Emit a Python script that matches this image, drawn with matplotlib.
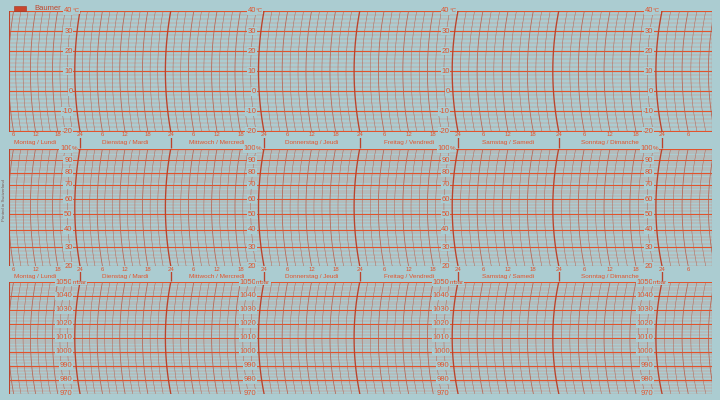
"""Baumer weekly thermo-hygro-barograph chart paper (photo of the blank sheet)."""

import numpy as np
import matplotlib
matplotlib.use("Agg")
import matplotlib.pyplot as plt
from matplotlib.patches import Rectangle
from matplotlib.transforms import blended_transform_factory

plt.rcParams["font.family"] = ["Liberation Sans", "DejaVu Sans"]

# printed scales of the sheet
DAYS = ["Montag / Lundi", "Dienstag / Mardi", "Mittwoch / Mercredi",
        "Donnerstag / Jeudi", "Freitag / Vendredi", "Samstag / Samedi",
        "Sonntag / Dimanche"]
SCALE_HOURS = [24, 72, 120, 168]          # day lines that carry the value scales
DAY_LINES = [24, 48, 72, 96, 120, 144, 168]
TEMP_MAJOR = [40, 30, 20, 10, 0, -10, -20]
HUM_MAJOR = [100, 90, 80, 70, 60, 50, 40, 30, 20]
HUM_FRAC = [0.0, 0.10, 0.205, 0.31, 0.43, 0.56, 0.69, 0.84, 1.0]  # hair hygrometer scale, from top
PRES_MAJOR = [1050, 1040, 1030, 1020, 1010, 1000, 990, 980, 970]

PAPER = "#abccd1"
RED = "#e2532c"
RED_MINOR = "#d9836c"
DAYLINE = "#bb432b"
TIMELINE = "#b9624f"

W, H = 720, 400
# the photo is taken at an angle: day spacing grows to the right
PX_DAY1, PX_PER_DAY, PX_GROW = 80.0, 89.5, 1.25
ARC_SAG = 1.4  # hours the pen arc bows left at mid panel


def hour_to_px(h):
    u = np.asarray(h, float) / 24 - 1
    return PX_DAY1 + PX_PER_DAY * u + PX_GROW * u ** 2


def px_to_hour(p):
    p = np.asarray(p, float)
    disc = np.maximum(PX_PER_DAY ** 2 + 4 * PX_GROW * (p - PX_DAY1), 0)
    u = (-PX_PER_DAY + np.sqrt(disc)) / (2 * PX_GROW)
    return (u + 1) * 24


def hum_fwd(v):
    return 1 - np.interp(v, HUM_MAJOR[::-1], HUM_FRAC[::-1])


def hum_inv(y):
    return np.interp(1 - np.asarray(y, float), HUM_FRAC, HUM_MAJOR)


fig = plt.figure(figsize=(W / 100, H / 100), dpi=100, facecolor=PAPER)


def px_axes(left, top, right, bottom):
    ax = fig.add_axes([left / W, 1 - bottom / H, (right - left) / W,
                       (bottom - top) / H])
    ax.set_xscale("function", functions=(hour_to_px, px_to_hour))
    ax.set_xlim(float(px_to_hour(left)), float(px_to_hour(right)))
    ax.set_facecolor("none")
    ax.axis("off")
    return ax


# overlay axes in hours x pixels, for the bands between the panels
bg = px_axes(0, 0, W, H)
bg.set_ylim(H, 0)
bg.set_zorder(5)

GRID_L, GRID_R = 9, 712
BANDS = [(131.5, 148.5), (266, 282)]
temp = px_axes(GRID_L, 11, GRID_R, BANDS[0][0])
hum = px_axes(GRID_L, BANDS[0][1], GRID_R, BANDS[1][0])
hum.set_yscale("function", functions=(hum_fwd, hum_inv))
pres = px_axes(GRID_L, BANDS[1][1], GRID_R, 393.5)


def draw_grid(ax, lo, hi, step):
    for v in np.arange(lo, hi + 1e-9, step):
        major = round(v) % 10 == 0
        ax.axhline(v, color=RED if major else RED_MINOR,
                   lw=0.85 if major else 0.3, zorder=2 if major else 1)
    tr = blended_transform_factory(ax.transData, ax.transAxes)
    t = np.linspace(0, 1, 41)
    h0, h1 = ax.get_xlim()
    for h in np.arange(np.ceil(h0 / 2) * 2, h1 + 2, 2):
        x = h - ARC_SAG * (1 - (2 * t - 1) ** 2)
        if h % 24 == 0:
            ax.plot(x, t, transform=tr, color=DAYLINE, lw=0.95, zorder=3)
        elif h % 6 == 0:
            ax.plot(x, t, transform=tr, color=TIMELINE, lw=0.55, zorder=2)
        else:
            ax.plot(x, t, transform=tr, color=TIMELINE, lw=0.35, zorder=1)
    for edge in (h0, h1):
        ax.axvline(edge, color=DAYLINE, lw=0.8, zorder=3)
    ax.set_xlim(h0, h1)
    ax.set_ylim(lo, hi)


def draw_scale(ax, values, unit):
    box = dict(facecolor=PAPER, edgecolor="none", pad=0.5)
    for h in SCALE_HOURS:
        for i, v in enumerate(values):
            ax.text(h - 2, v, str(v), ha="right", va="center", fontsize=5.5,
                    color=RED, bbox=box, zorder=6)
            if i == 0:
                ax.text(h - 2.1, v, unit, ha="left", va="center", fontsize=4.5,
                        color=RED, bbox=box, zorder=6)


draw_grid(temp, -20, 40, 2)
draw_grid(hum, 20, 100, 2)
draw_grid(pres, 970, 1050, 2)
draw_scale(temp, TEMP_MAJOR, "°C")
draw_scale(hum, HUM_MAJOR, "%")
draw_scale(pres, PRES_MAJOR, "mbar")

# day bands
hours = np.arange(6, 175, 6)
for top, bottom in BANDS:
    bg.vlines(DAY_LINES, top + 1, bottom - 1, color=DAYLINE, lw=0.95, zorder=2)
    for h in hours:
        bg.text(h, top + 3.5, str(24 if h % 24 == 0 else h % 24), ha="center",
                va="center", fontsize=4.3, color=RED,
                bbox=dict(facecolor=PAPER, edgecolor="none", pad=0.2), zorder=4)
    for k, name in enumerate(DAYS):
        bg.text(24 * k + 12, bottom - 5.8, name, ha="center", va="center",
                fontsize=4.6, color=RED, zorder=4)

# maker's marks
fig.patches.append(Rectangle((14 / W, 1 - 11 / H), 12 / W, 5 / H,
                             transform=fig.transFigure, facecolor="#c9452c",
                             edgecolor="#a0331f", lw=0.4))
fig.text(34 / W, 1 - 8.5 / H, "Baumer", fontsize=5.5, color="#c2452b",
         ha="left", va="center")
fig.text(4 / W, 1 - 200 / H, "Printed in Switzerland", fontsize=3.2,
         color="#7b5b55", rotation=90, ha="center", va="center")

fig.savefig("out.png", dpi=100, facecolor=PAPER)
